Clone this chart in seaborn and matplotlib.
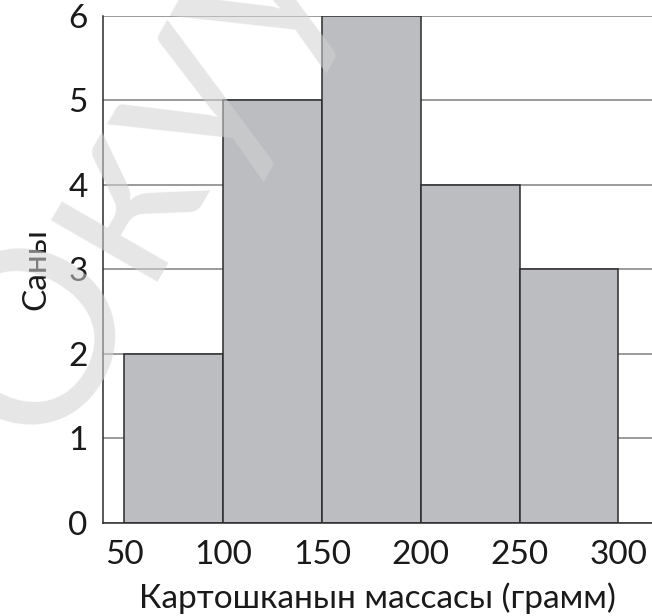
import numpy as np
import pandas as pd
import seaborn as sns
import matplotlib.pyplot as plt

# potato mass histogram
bin_edges = [50, 100, 150, 200, 250, 300]
counts = [2, 5, 6, 4, 3]
x_ticks = [50, 100, 150, 200, 250, 300]
y_ticks = [0, 1, 2, 3, 4, 5, 6]

sns.set_style("white")
plt.rcParams['font.family'] = ['Lato', 'DejaVu Sans']

df = pd.DataFrame({
    'mass': [(a + b) / 2 for a, b in zip(bin_edges[:-1], bin_edges[1:])],
    'n': counts,
})

fig = plt.figure(figsize=(6.52, 6.16), dpi=100)
ax = fig.add_axes([0.158, 0.1511, 0.842, 0.8234])

ax.set_axisbelow(True)
ax.yaxis.grid(True, color='#8a8a8a', linewidth=1.2)
sns.histplot(data=df, x='mass', weights='n', bins=bin_edges, ax=ax,
             color='#bcbdc1', edgecolor='#2b2b2b', linewidth=1.1, alpha=1)

ax.set_xlim(39.2, 317)
ax.set_ylim(0, 6)
ax.set_xticks(x_ticks)
ax.set_yticks(y_ticks)

for s in ['top', 'right']:
    ax.spines[s].set_visible(False)
ax.spines['left'].set_color('#2b2b2b')
ax.spines['left'].set_linewidth(1.1)
ax.spines['bottom'].set_color('#2b2b2b')
ax.spines['bottom'].set_linewidth(1.1)

ax.tick_params(axis='y', direction='inout', length=16, width=1.1,
               color='#2b2b2b', pad=3, labelsize=24, labelcolor='#1a1a1a')
ax.tick_params(axis='x', length=0, pad=12, labelsize=24, labelcolor='#1a1a1a')

ax.set_xlabel('Картошканын массасы (грамм)', fontsize=24, color='#1a1a1a', labelpad=9)
ax.set_ylabel('Саны', fontsize=24, color='#1a1a1a', labelpad=12)

# watermark
fig.text(0.20, 0.72, 'Окуу', fontsize=175, rotation=60, color='#d2d2d2',
         alpha=0.55, ha='center', va='center', zorder=10)

fig.savefig('out.png', dpi=100)
